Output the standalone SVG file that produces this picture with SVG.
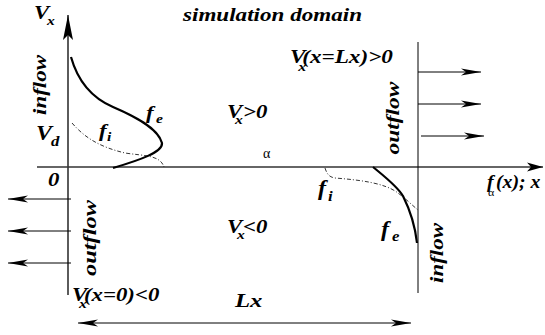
<svg xmlns="http://www.w3.org/2000/svg" width="545" height="335" viewBox="0 0 545 335">
<style>
.t{font-family:'Liberation Serif',serif;font-weight:bold;font-style:italic;font-size:19px;fill:#000}
.s{font-size:13px}
.g{font-family:'Liberation Serif',serif;font-weight:normal;font-style:normal;font-size:14px;fill:#000}
.ax{stroke:#333;stroke-width:1.6;fill:none}
.ln{stroke:#000;stroke-width:1;fill:none}
.fe{stroke:#000;stroke-width:2.2;fill:none}
.fi{stroke:#000;stroke-width:0.8;fill:none;stroke-dasharray:4 2 1 2}
</style>
<defs>
<marker id="ah" markerUnits="userSpaceOnUse" markerWidth="24" markerHeight="10" viewBox="-21 -5 22 10" refX="0" refY="0" orient="auto-start-reverse" overflow="visible">
<path d="M0,0 L-20,-3.5 L-15,0 L-20,3.5 Z" fill="#000"/>
</marker>
<marker id="axh" markerUnits="userSpaceOnUse" markerWidth="30" markerHeight="14" viewBox="-26 -7 27 14" refX="0" refY="0" orient="auto" overflow="visible">
<path d="M0,0 L-25,-5 L-20,0 L-25,5 Z" fill="#000"/>
</marker>
<marker id="axr" markerUnits="userSpaceOnUse" markerWidth="20" markerHeight="12" viewBox="-17 -6 18 12" refX="0" refY="0" orient="auto" overflow="visible">
<path d="M0,0 L-16,-4.5 L-12,0 L-16,4.5 Z" fill="#000"/>
</marker>
</defs>
<g id="connectors">
<line class="ax" x1="68" y1="295" x2="68" y2="15" marker-end="url(#axh)"/>
<line class="ax" x1="37" y1="167" x2="543" y2="167" marker-end="url(#axr)"/>
<line class="ln" x1="418" y1="42" x2="418" y2="293"/>
<line class="ln" x1="418" y1="72" x2="481" y2="72" marker-end="url(#ah)"/>
<line class="ln" x1="418" y1="104" x2="481" y2="104" marker-end="url(#ah)"/>
<line class="ln" x1="421" y1="136" x2="484" y2="136" marker-end="url(#ah)"/>
<line class="ln" x1="71" y1="199" x2="8" y2="199" marker-end="url(#ah)"/>
<line class="ln" x1="71" y1="231" x2="8" y2="231" marker-end="url(#ah)"/>
<line class="ln" x1="71" y1="263" x2="8" y2="263" marker-end="url(#ah)"/>
<line class="ln" x1="78" y1="323" x2="411" y2="323" marker-start="url(#ah)" marker-end="url(#ah)"/>
</g>
<g id="curves">
<path class="fe" d="M71,57 C78,82 92,98 113,107 S158,128 162,143 C163,152 140,160 113,168"/>
<path class="fi" d="M72,123 C85,138 100,147 125,153 C145,156 160,155 164,167"/>
<path class="fi" d="M325,168 C327,174 329,177 335,178 C360,180 385,183 398,193 C406,199 412,205 418,210"/>
<path class="fe" d="M373,167 C385,177 397,186 403,196 C410,210 415,225 417,243"/>
</g>
<g id="labels" font-family="Liberation Serif, serif">
<text class="t" transform="translate(34,19) scale(1.2,1)"><tspan x="0" y="0">V</tspan><tspan class="s" x="10.8" y="6">x</tspan></text>
<text class="t" x="183" y="21" textLength="179" lengthAdjust="spacingAndGlyphs">simulation domain</text>
<text class="t" transform="translate(290,63) scale(1.22,1)"><tspan x="0" y="0">V</tspan><tspan class="s" x="6.7" y="8">x</tspan><tspan x="10" y="0">(x=Lx)&gt;0</tspan></text>
<text class="t" transform="translate(227,118) scale(1.2,1)"><tspan x="0" y="0">V</tspan><tspan class="s" x="6.7" y="6">x</tspan><tspan x="13.3" y="0">&gt;0</tspan></text>
<text class="g" x="263" y="158">α</text>
<text class="t" transform="translate(36,140) scale(1.2,1)" style="font-size:20px"><tspan x="0" y="0">V</tspan><tspan x="12.5" y="6" style="font-size:14px">d</tspan></text>
<text class="t" transform="translate(99,137) scale(1.2,1)"><tspan x="0" y="0">f</tspan><tspan class="s" x="6.7" y="4">i</tspan></text>
<text class="t" transform="translate(146,119) scale(1.2,1)"><tspan x="0" y="0">f</tspan><tspan class="s" x="8.3" y="4">e</tspan></text>
<text class="t" transform="translate(48,186) scale(1.2,1)">0</text>
<text class="t" transform="translate(318,195) scale(1.2,1)" style="font-size:20px"><tspan x="0" y="0">f</tspan><tspan x="8.3" y="6" style="font-size:14px">i</tspan></text>
<text class="t" transform="translate(381,236) scale(1.2,1)" style="font-size:20px"><tspan x="0" y="0">f</tspan><tspan x="9.2" y="5" style="font-size:14px">e</tspan></text>
<text class="t" transform="translate(487,188) scale(1.1,1)" style="font-size:18px"><tspan x="0" y="0">f</tspan><tspan x="1" y="8" style="font-size:11px;font-weight:normal;font-style:normal">α</tspan><tspan x="8.2" y="0">(x); x</tspan></text>
<text class="t" transform="translate(227,233) scale(1.2,1)"><tspan x="0" y="0">V</tspan><tspan class="s" x="8.3" y="6">x</tspan><tspan x="13.3" y="0">&lt;0</tspan></text>
<text class="t" transform="translate(72,301) scale(1.2,1)"><tspan x="0" y="0">V</tspan><tspan class="s" x="5.8" y="7">x</tspan><tspan x="10" y="0">(x=0)&lt;0</tspan></text>
<text class="t" transform="translate(235,307) scale(1.3,1)">Lx</text>
<text class="t" transform="translate(46,85) rotate(-90)" text-anchor="middle" textLength="60" lengthAdjust="spacingAndGlyphs">inflow</text>
<text class="t" transform="translate(399,118) rotate(-90)" text-anchor="middle" textLength="73" lengthAdjust="spacingAndGlyphs">outflow</text>
<text class="t" transform="translate(96,238) rotate(-90)" text-anchor="middle" textLength="76" lengthAdjust="spacingAndGlyphs">outflow</text>
<text class="t" transform="translate(443,253) rotate(-90)" text-anchor="middle" textLength="60" lengthAdjust="spacingAndGlyphs">inflow</text>
</g>
</svg>
